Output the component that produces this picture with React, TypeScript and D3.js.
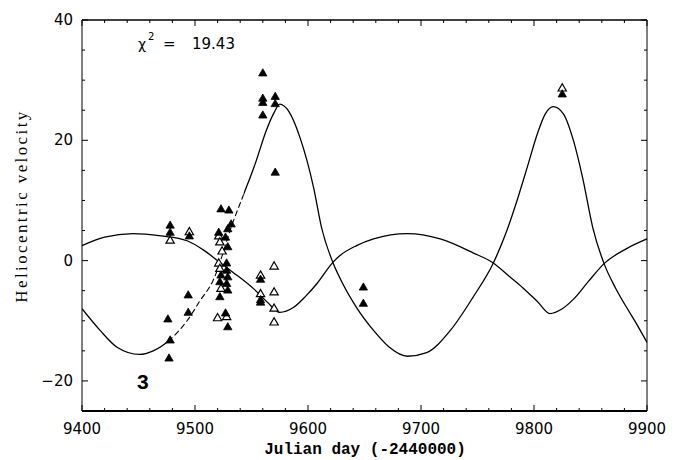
import React from "react";
import * as d3 from "d3";

// ---- Data ----
const xTicksMajor = [9400, 9500, 9600, 9700, 9800, 9900];
const yTicksMajor = [-20, 0, 20, 40];

// Orbit curve of the large-amplitude component (day, km/s)
const curveADays = [9400, 9416, 9431, 9451, 9463, 9478, 9493, 9504, 9516, 9534, 9542, 9554, 9563, 9570, 9575, 9583, 9593, 9605, 9612, 9622, 9628, 9643, 9658, 9672, 9688, 9705, 9726, 9746, 9764, 9776, 9785, 9794, 9803, 9810, 9817, 9826, 9835, 9843, 9852, 9862, 9872, 9882, 9891, 9900];
const curveAVel = [-8.0, -11.6, -14.4, -15.6, -15.0, -13.1, -10.0, -6.8, -3.3, 6.6, 10.5, 16.5, 21.6, 24.6, 26.0, 24.8, 20.4, 12.1, 5.5, -0.3, -2.8, -7.8, -11.6, -14.4, -15.9, -15.3, -11.6, -6.1, -0.4, 5.0, 10.0, 15.5, 21.1, 24.4, 25.6, 24.4, 19.9, 13.8, 5.5, -0.5, -4.5, -7.8, -10.6, -13.6];

// Orbit curve of the small-amplitude component
const curveBDays = [9400, 9420, 9445, 9470, 9493, 9508, 9522, 9534, 9552, 9564, 9575, 9587, 9598, 9608, 9622, 9628, 9643, 9658, 9688, 9717, 9746, 9764, 9778, 9790, 9803, 9814, 9825, 9835, 9848, 9862, 9882, 9900];
const curveBVel = [2.5, 3.9, 4.5, 4.1, 3.3, 1.7, -0.3, -2.0, -4.7, -6.9, -8.6, -7.8, -5.9, -3.8, -0.3, 0.8, 2.5, 3.6, 4.5, 3.6, 1.3, -0.4, -2.6, -4.5, -6.8, -8.8, -8.0, -6.4, -3.5, -0.5, 2.0, 3.6];

// Observations: filled triangles
const filledDays = [9560, 9560, 9560, 9560, 9571, 9571, 9571, 9825, 9523, 9530, 9532, 9529, 9521, 9527, 9529, 9528, 9528, 9529, 9528, 9529, 9522, 9527, 9529, 9522, 9523, 9478, 9478, 9495, 9494, 9494, 9476, 9478, 9477, 9649, 9649, 9558, 9558, 9558];
const filledVel = [31.1, 26.9, 26.2, 24.1, 27.2, 26.0, 14.6, 27.6, 8.5, 8.3, 6.0, 5.2, 4.6, 3.8, 2.2, -0.5, -1.7, -2.8, -3.9, -5.0, -6.1, -8.8, -11.1, -3.6, -2.5, 5.8, 4.6, 4.0, -5.8, -8.7, -9.8, -13.3, -16.3, -4.5, -7.2, -6.6, -7.0, -3.2];

// Observations: open triangles
const openDays = [9825, 9478, 9495, 9521, 9522, 9521, 9522, 9523, 9520, 9528, 9524, 9558, 9558, 9570, 9570, 9570, 9570];
const openVel = [28.6, 3.3, 4.7, 4.0, 3.0, -0.5, -1.4, -4.7, -9.6, -9.4, 1.5, -2.5, -5.6, -1.0, -5.3, -8.0, -10.3];

const chiText = "19.43";
const panelLabel = "3";

export default function App() {
  const W = 685, H = 460;
  const x = d3.scaleLinear().domain([9400, 9900]).range([82, 647]);
  const y = d3.scaleLinear().domain([-25, 40]).range([411, 20]);
  const [x0, x1] = x.range();
  const [yb, yt] = y.range();

  const line = d3.line<[number, number]>()
    .x(d => x(d[0]))
    .y(d => y(d[1]))
    .curve(d3.curveMonotoneX);

  const ptsA = curveADays.map((d, i) => [d, curveAVel[i]] as [number, number]);
  const ptsB = curveBDays.map((d, i) => [d, curveBVel[i]] as [number, number]);
  const pathA = line(ptsA) || "";
  const pathB = line(ptsB) || "";

  const tri = d3.symbol().type(d3.symbolTriangle).size(30)() || "";

  const xMinor = d3.range(9400, 9901, 20);
  const yMinor = d3.range(-25, 41, 5);

  const dashLo = x(9478), dashHi = x(9543);

  return (
    <svg width={W} height={H} style={{ position: "absolute", left: 0, top: 0, background: "#fff" }}>
      <defs>
        <clipPath id="solidA">
          <rect x={x0} y={yt} width={dashLo - x0} height={yb - yt} />
          <rect x={dashHi} y={yt} width={x1 - dashHi} height={yb - yt} />
        </clipPath>
        <clipPath id="dashA">
          <rect x={dashLo} y={yt} width={dashHi - dashLo} height={yb - yt} />
        </clipPath>
      </defs>

      {/* frame */}
      <line x1={x0} x2={x1} y1={yt} y2={yt} stroke="#000" strokeWidth={1.6} />
      <line x1={x0} x2={x1} y1={yb} y2={yb} stroke="#000" strokeWidth={2} />
      <line x1={x0} x2={x0} y1={yt} y2={yb} stroke="#000" strokeWidth={1} />
      <line x1={x1} x2={x1} y1={yt} y2={yb} stroke="#000" strokeWidth={1} />

      {/* x ticks */}
      {xMinor.map(v => {
        const major = v % 100 === 0;
        const len = major ? 6 : 3;
        return (
          <g key={"xt" + v}>
            <line x1={x(v)} x2={x(v)} y1={yb} y2={yb - len} stroke="#000" strokeWidth={1} />
            <line x1={x(v)} x2={x(v)} y1={yt} y2={yt + len} stroke="#000" strokeWidth={1} />
          </g>
        );
      })}
      {/* y ticks */}
      {yMinor.map(v => {
        const major = v % 20 === 0;
        const len = major ? 6 : 3;
        return (
          <g key={"yt" + v}>
            <line x1={x0} x2={x0 + len} y1={y(v)} y2={y(v)} stroke="#000" strokeWidth={1} />
            <line x1={x1} x2={x1 - len} y1={y(v)} y2={y(v)} stroke="#000" strokeWidth={1} />
          </g>
        );
      })}

      {/* tick labels */}
      {xTicksMajor.map(v => (
        <text key={"xl" + v} x={x(v)} y={434} textAnchor="middle"
          fontFamily="DejaVu Sans" fontSize={15} fill="#000">{v}</text>
      ))}
      {yTicksMajor.map(v => (
        <text key={"yl" + v} x={73} y={y(v) + 5} textAnchor="end"
          fontFamily="DejaVu Sans" fontSize={15} fill="#000">{v < 0 ? "\u2212" + Math.abs(v) : v}</text>
      ))}

      {/* axis titles */}
      <text x={365} y={454} textAnchor="middle" fontFamily="Liberation Mono" fontWeight="bold"
        fontSize={16} fill="#000">Julian day (-2440000)</text>
      <text transform={`translate(27,${206}) rotate(-90)`} textAnchor="middle"
        fontFamily="Liberation Serif" fontSize={17} letterSpacing={2.4} fill="#000">Heliocentric velocity</text>

      {/* model curves */}
      <path d={pathB} fill="none" stroke="#000" strokeWidth={1.3} />
      <path d={pathA} fill="none" stroke="#000" strokeWidth={1.3} clipPath="url(#solidA)" />
      <path d={pathA} fill="none" stroke="#000" strokeWidth={1.1} strokeDasharray="6,3" clipPath="url(#dashA)" />

      {/* observations */}
      {openDays.map((d, i) => (
        <path key={"o" + i} d={tri} transform={`translate(${x(d)},${y(openVel[i])})`}
          fill="#fff" stroke="#000" strokeWidth={1.2} />
      ))}
      {filledDays.map((d, i) => (
        <path key={"f" + i} d={tri} transform={`translate(${x(d)},${y(filledVel[i])})`}
          fill="#000" stroke="#000" strokeWidth={0.8} />
      ))}

      {/* annotations */}
      <text x={138} y={49} fontFamily="DejaVu Sans" fontSize={14} fill="#000">{"\u03C7"}</text>
      <text x={148} y={40} fontFamily="DejaVu Sans" fontSize={10} fill="#000">2</text>
      <text x={163} y={49} fontFamily="DejaVu Sans" fontSize={15} fill="#000">=</text>
      <text x={192} y={49} fontFamily="DejaVu Sans" fontSize={15} fill="#000">{chiText}</text>
      <text x={137} y={389} fontFamily="Liberation Sans" fontWeight="bold" fontSize={21} fill="#000">{panelLabel}</text>
    </svg>
  );
}
